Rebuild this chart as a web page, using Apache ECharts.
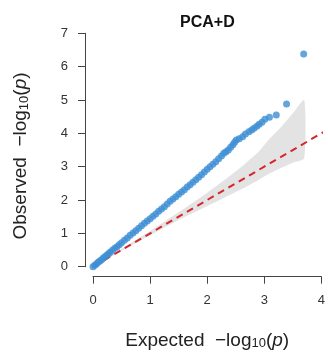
<!DOCTYPE html>
<html>
<head>
<meta charset="utf-8">
<script src="https://cdn.jsdelivr.net/npm/echarts@6/dist/echarts.min.js"></script>
<style>html,body{margin:0;padding:0;background:#fff}#c{width:328px;height:360px}</style>
</head>
<body>
<div id="c"></div>
<script>
// Observed vs expected -log10(p) points
var points = [
  [0.00,0.00],[0.03,0.04],[0.06,0.08],[0.09,0.13],[0.12,0.17],[0.15,0.21],[0.18,0.26],
  [0.21,0.30],[0.24,0.34],[0.27,0.39],[0.30,0.43],[0.34,0.49],[0.38,0.55],[0.42,0.60],
  [0.46,0.66],[0.50,0.72],[0.55,0.79],[0.60,0.86],[0.65,0.94],[0.70,1.01],[0.75,1.08],
  [0.80,1.15],[0.85,1.23],[0.90,1.30],[0.95,1.37],[1.00,1.44],[1.05,1.51],[1.10,1.58],
  [1.15,1.66],[1.20,1.73],[1.25,1.80],[1.30,1.88],[1.35,1.96],[1.40,2.03],[1.45,2.10],
  [1.50,2.17],[1.55,2.24],[1.60,2.31],[1.65,2.39],[1.70,2.46],[1.75,2.53],[1.80,2.61],
  [1.85,2.68],[1.90,2.76],[1.95,2.84],[2.00,2.92],[2.05,3.00],[2.10,3.07],[2.15,3.15],
  [2.20,3.24],[2.25,3.32],[2.29,3.40],[2.33,3.45],[2.37,3.50],[2.41,3.58],[2.45,3.66],
  [2.48,3.73],[2.51,3.80],[2.56,3.84],[2.62,3.90],[2.67,3.98],[2.73,4.05],[2.78,4.10],
  [2.82,4.15],[2.87,4.21],[2.91,4.27],[2.96,4.33],[3.01,4.42],[3.09,4.48],[3.21,4.55],
  [3.39,4.88],[3.69,6.38]
];
// Confidence band
var bandX     = [0, 0.5, 1.0, 1.5, 2.0, 2.3, 2.6, 2.9, 3.1, 3.3, 3.5, 3.7];
var bandLower = [0, 0.47, 0.94, 1.40, 1.82, 2.07, 2.32, 2.60, 2.80, 2.97, 3.12, 3.25];
var bandUpper = [0, 0.53, 1.07, 1.63, 2.22, 2.60, 3.00, 3.45, 3.85, 4.20, 4.60, 5.00];
// y = x reference line
var refLine = [[-0.17,-0.17],[4.4,4.4]];
var xTicks = [0, 1, 2, 3, 4];
var yTicks = [0, 1, 2, 3, 4, 5, 6, 7];

var FONT = 'Liberation Sans, Arial, sans-serif';
var nameRich = {
  a: {fontSize: 19, fontFamily: FONT, color: '#222', lineHeight: 24},
  s: {fontSize: 13, fontFamily: FONT, color: '#222', lineHeight: 24, padding: [6,0,0,0]},
  i: {fontSize: 19, fontFamily: FONT, color: '#222', fontStyle: 'italic', lineHeight: 24}
};
var chart = echarts.init(document.getElementById('c'), null, {renderer: 'canvas'});
chart.setOption({
  animation: false,
  backgroundColor: '#fff',
  title: {
    text: 'PCA+D', left: 175, top: 10,
    textStyle: {fontFamily: FONT, fontWeight: 'bold', fontSize: 16, color: '#111'}
  },
  grid: {left: 93, right: 1, top: 33.3, bottom: 93.3},
  xAxis: {
    type: 'value', min: xTicks[0], max: xTicks[xTicks.length-1], interval: 1,
    offset: 10,
    axisLine: {show: true, onZero: false, lineStyle: {color: '#444', width: 1}},
    axisTick: {show: true, length: 7, lineStyle: {color: '#444'}},
    axisLabel: {margin: 17, fontSize: 13, color: '#333', fontFamily: FONT},
    splitLine: {show: false},
    name: '{a|Expected  −log}{s|10}{a|(}{i|p}{a|)}',
    nameLocation: 'middle', nameGap: 52,
    nameTextStyle: {rich: nameRich}
  },
  yAxis: {
    type: 'value', min: yTicks[0], max: yTicks[yTicks.length-1], interval: 1,
    offset: 8,
    axisLine: {show: true, onZero: false, lineStyle: {color: '#444', width: 1}},
    axisTick: {show: true, length: 7, lineStyle: {color: '#444'}},
    axisLabel: {margin: 17, fontSize: 13, color: '#333', fontFamily: FONT},
    splitLine: {show: false},
    name: '{a|Observed  −log}{s|10}{a|(}{i|p}{a|)}',
    nameLocation: 'middle', nameGap: 52,
    nameTextStyle: {rich: nameRich, padding: [0, 12, 0, 0]}
  },
  series: [
    {
      type: 'custom', z: 1, clip: false, silent: true,
      data: [[0, 0]],
      renderItem: function (params, api) {
        var pts = [];
        for (var i = 0; i < bandX.length; i++) pts.push(api.coord([bandX[i], bandUpper[i]]));
        for (var j = bandX.length - 1; j >= 0; j--) pts.push(api.coord([bandX[j], bandLower[j]]));
        return {type: 'polygon', shape: {points: pts, smooth: 0.2}, style: {fill: '#e3e3e3', stroke: null}};
      }
    },
    {
      type: 'line', z: 2, clip: false, silent: true, symbol: 'none',
      data: refLine,
      lineStyle: {color: '#d5262c', width: 2, type: [7, 5]}
    },
    {
      type: 'scatter', z: 3, clip: false, silent: true,
      symbol: 'circle', symbolSize: 7,
      itemStyle: {color: '#3d8fd4'},
      data: points
    }
  ]
});
</script>
</body>
</html>
